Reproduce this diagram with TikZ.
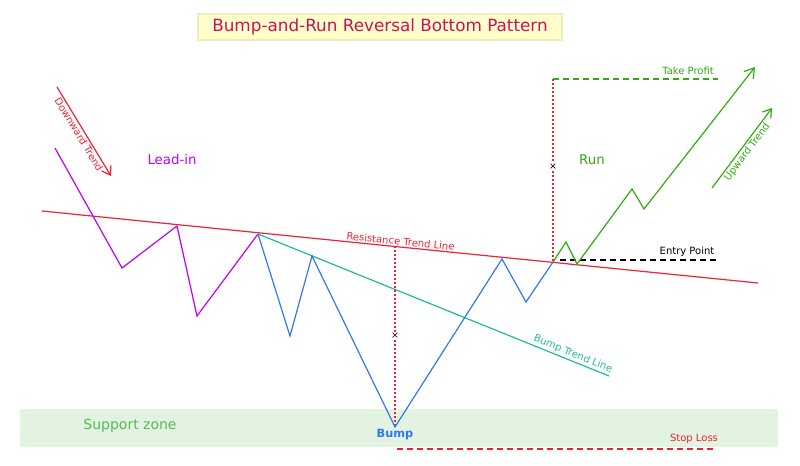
\documentclass[tikz,border=0pt]{standalone}
\usepackage{fontspec}
\setmainfont{DejaVu Sans}
\usetikzlibrary{arrows.meta}

\definecolor{titlered}{HTML}{CC1155}
\definecolor{titlebg}{HTML}{FFFFCC}
\definecolor{titleline}{HTML}{EEEEBB}
\definecolor{zonebg}{HTML}{E2F3E2}
\definecolor{zonetext}{HTML}{55BB55}
\definecolor{leadpurple}{HTML}{BB00FF}
\definecolor{bumpblue}{HTML}{3377EE}
\definecolor{rungreen}{HTML}{33AA11}
\definecolor{bumpteal}{HTML}{22BB99}
\definecolor{resred}{HTML}{EE2233}

\tikzset{
  lbl/.style={font=\fontsize{7.5}{9}\selectfont, inner sep=1pt},
  xmark/.style={font=\fontsize{7}{8}\selectfont, inner sep=0.5pt},
  guide/.style={resred, line width=1pt, dash pattern=on 1.5pt off 1.5pt},
  level/.style={dash pattern=on 4.5pt off 3pt, line width=0.9pt},
}

\begin{document}
\begin{tikzpicture}[x=0.75pt, y=-0.75pt, line width=0.9pt]
	\useasboundingbox (0,0) rectangle (800,465);
	% support zone
	\fill[zonebg] (20,409) rectangle (778,447);
	\node (zone) at (130,426) [zonetext, font=\fontsize{10.5}{12}\selectfont] {Support zone};

	% title
	\node (title) at (380,27) [draw=titleline, fill=titlebg, minimum width=273pt, minimum height=19.5pt,
		text=titlered, font=\fontsize{12.6}{14}\selectfont] {Bump-and-Run Reversal Bottom Pattern};

	% price points
	\coordinate (a0) at (55,148);
	\coordinate (a1) at (122,268);
	\coordinate (a2) at (177,226);
	\coordinate (a3) at (197,316);
	\coordinate (a4) at (258,234);
	\coordinate (b1) at (290,336);
	\coordinate (b2) at (312,256);
	\coordinate (bump) at (395,427);
	\coordinate (b4) at (502,259);
	\coordinate (b5) at (526,302);
	\coordinate (brk) at (553,262);
	\coordinate (c1) at (566,242);
	\coordinate (c2) at (577,264);
	\coordinate (c3) at (632,189);
	\coordinate (c4) at (644,209);
	\coordinate (c5) at (755,67);

	% trend lines
	\coordinate (r0) at (42,211);
	\coordinate (r1) at (758,283);
	\draw[resred] (r0) -- (r1)
		node [pos=0.5, sloped, above, lbl, text=resred] {Resistance Trend Line};
	\coordinate (t1) at (609,376);
	\draw[bumpteal] (a4) -- (t1)
		node [pos=0.89, sloped, above, lbl, text=bumpteal] {Bump Trend Line};

	% guides
	\coordinate (g0) at (395,246);
	\node (x0) at (395,336) [xmark] {×};
	\draw[guide] (g0) -- (x0.north);
	\draw[guide] (x0.south) -- (bump);
	\coordinate (g1) at (553,79);
	\node (x1) at (553,167) [xmark] {×};
	\draw[guide] (g1) -- (x1.north);
	\draw[guide] (x1.south) -- (brk);

	\coordinate (tp) at (718,79);
	\draw[level, rungreen] (g1) -- (tp);
	\node (tptext) at (688,71) [lbl, text=rungreen] {Take Profit};
	\coordinate (e0) at (560,260);
	\coordinate (e1) at (718,260);
	\draw[level] (e0) -- (e1);
	\node (etext) at (687,252) [lbl] {Entry Point};
	\coordinate (s0) at (397,449);
	\coordinate (s1) at (716,449);
	\draw[level, resred] (s0) -- (s1);
	\node (stext) at (694,439) [lbl, text=resred] {Stop Loss};

	% pattern
	\draw[leadpurple] (a0) -- (a1) -- (a2) -- (a3) -- (a4);
	\draw[bumpblue] (a4) -- (b1) -- (b2) -- (bump) -- (b4) -- (b5) -- (brk);
	\draw[rungreen, -{Straight Barb[length=7pt, width=9pt]}] (brk) -- (c1) -- (c2) -- (c3) -- (c4) -- (c5);

	% labels
	\node (lead) at (172,160) [leadpurple, font=\fontsize{10}{12}\selectfont] {Lead-in};
	\node (run) at (592,160) [rungreen, font=\fontsize{10}{12}\selectfont] {Run};
	\node (bumptext) at (395,435) [bumpblue, font=\bfseries\fontsize{8.5}{10}\selectfont] {Bump};

	% trend arrows
	\coordinate (d0) at (57,87);
	\coordinate (d1) at (111,176);
	\draw[resred, -{Straight Barb[length=6pt, width=8pt]}] (d0) -- (d1)
		node [midway, sloped, below, lbl, text=resred] {Downward Trend};
	\coordinate (u0) at (712,188);
	\coordinate (u1) at (772,108);
	\draw[rungreen, -{Straight Barb[length=6pt, width=8pt]}] (u0) -- (u1)
		node [midway, sloped, below, lbl, text=rungreen] {Upward Trend};
\end{tikzpicture}
\end{document}
